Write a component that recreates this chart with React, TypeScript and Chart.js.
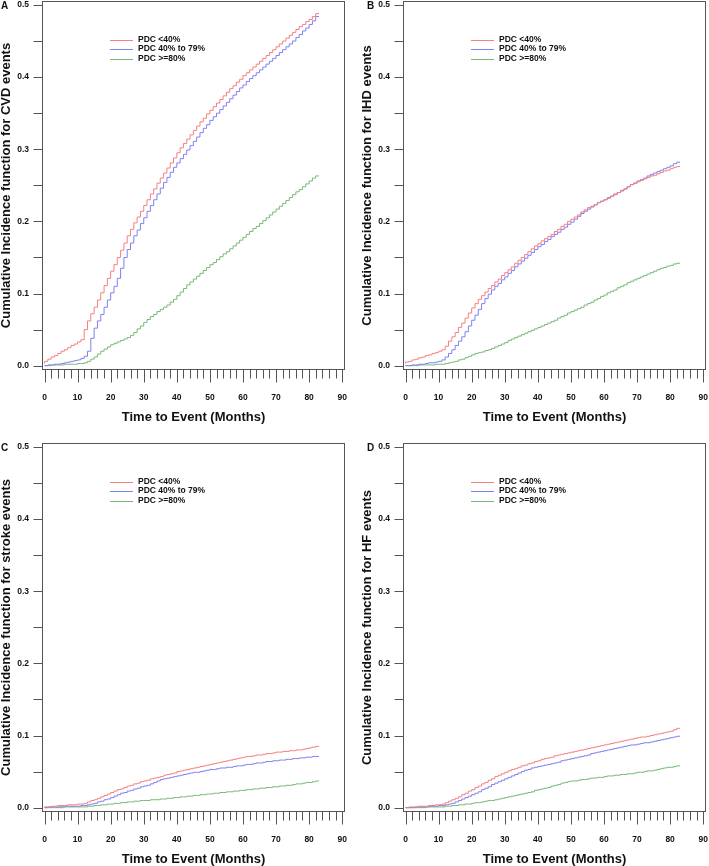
import React, { useEffect, useRef } from 'react';
import { Chart, registerables } from 'chart.js';

Chart.register(...registerables);

// ---------- data ----------
const MONTHS = [
  0, 1, 2, 3, 4, 5, 6, 7, 8, 9, 10, 11,
  12, 13, 14, 15, 16, 17, 18, 19, 20, 21, 22, 23,
  24, 25, 26, 27, 28, 29, 30, 31, 32, 33, 34, 35,
  36, 37, 38, 39, 40, 41, 42, 43, 44, 45, 46, 47,
  48, 49, 50, 51, 52, 53, 54, 55, 56, 57, 58, 59,
  60, 61, 62, 63, 64, 65, 66, 67, 68, 69, 70, 71,
  72, 73, 74, 75, 76, 77, 78, 79, 80, 81, 82, 83,
];

const GROUP_LABELS = ['PDC <40%', 'PDC 40% to 79%', 'PDC >=80%'];
const GROUP_COLORS = ['rgb(244,128,128)', 'rgb(128,128,244)', 'rgb(120,185,120)'];

const X_TITLE = 'Time to Event (Months)';

// Panel A: CVD
const CVD_LOW = [
  0.003, 0.006, 0.009, 0.012, 0.014, 0.017, 0.020, 0.022, 0.025, 0.028, 0.030, 0.033,
  0.036, 0.050, 0.062, 0.072, 0.081, 0.091, 0.101, 0.111, 0.121, 0.131, 0.140, 0.150,
  0.160, 0.170, 0.180, 0.189, 0.198, 0.206, 0.214, 0.222, 0.230, 0.238, 0.245, 0.253,
  0.260, 0.267, 0.274, 0.281, 0.288, 0.295, 0.302, 0.308, 0.314, 0.320, 0.326, 0.332,
  0.338, 0.343, 0.349, 0.354, 0.359, 0.364, 0.369, 0.374, 0.379, 0.384, 0.388, 0.393,
  0.397, 0.402, 0.406, 0.410, 0.414, 0.418, 0.422, 0.426, 0.430, 0.434, 0.438, 0.442,
  0.446, 0.450, 0.454, 0.458, 0.462, 0.466, 0.470, 0.473, 0.477, 0.480, 0.484, 0.488,
];
const CVD_MID = [
  0.000, 0.000, 0.001, 0.001, 0.002, 0.002, 0.003, 0.004, 0.005, 0.006, 0.007, 0.008,
  0.010, 0.013, 0.020, 0.038, 0.052, 0.062, 0.071, 0.081, 0.091, 0.101, 0.110, 0.121,
  0.135, 0.150, 0.161, 0.170, 0.180, 0.188, 0.197, 0.205, 0.214, 0.222, 0.230, 0.238,
  0.246, 0.254, 0.261, 0.268, 0.275, 0.281, 0.287, 0.293, 0.299, 0.305, 0.311, 0.317,
  0.323, 0.329, 0.334, 0.340, 0.345, 0.350, 0.355, 0.360, 0.365, 0.370, 0.375, 0.380,
  0.385, 0.389, 0.394, 0.398, 0.402, 0.406, 0.410, 0.414, 0.418, 0.422, 0.426, 0.430,
  0.434, 0.438, 0.442, 0.446, 0.450, 0.455, 0.459, 0.464, 0.468, 0.473, 0.478, 0.484,
];
const CVD_HIGH = [
  0.000, 0.000, 0.000, 0.001, 0.001, 0.001, 0.001, 0.002, 0.002, 0.002, 0.002, 0.003,
  0.003, 0.004, 0.006, 0.009, 0.012, 0.016, 0.020, 0.023, 0.026, 0.029, 0.031, 0.033,
  0.035, 0.037, 0.039, 0.042, 0.046, 0.051, 0.055, 0.060, 0.064, 0.068, 0.071, 0.075,
  0.078, 0.081, 0.084, 0.088, 0.092, 0.097, 0.102, 0.107, 0.112, 0.116, 0.120, 0.124,
  0.128, 0.132, 0.136, 0.140, 0.143, 0.147, 0.151, 0.155, 0.158, 0.162, 0.166, 0.170,
  0.174, 0.178, 0.182, 0.186, 0.190, 0.193, 0.197, 0.201, 0.205, 0.209, 0.213, 0.217,
  0.221, 0.225, 0.229, 0.233, 0.237, 0.241, 0.244, 0.248, 0.252, 0.256, 0.260, 0.263,
];

// Panel B: IHD
const IHD_LOW = [
  0.003, 0.005, 0.006, 0.008, 0.009, 0.011, 0.012, 0.014, 0.015, 0.017, 0.018, 0.020,
  0.022, 0.027, 0.034, 0.040, 0.046, 0.053, 0.059, 0.066, 0.073, 0.080, 0.086, 0.092,
  0.097, 0.102, 0.107, 0.111, 0.116, 0.120, 0.125, 0.129, 0.133, 0.137, 0.142, 0.146,
  0.150, 0.154, 0.158, 0.162, 0.166, 0.169, 0.173, 0.176, 0.179, 0.182, 0.186, 0.189,
  0.193, 0.196, 0.200, 0.203, 0.206, 0.209, 0.213, 0.216, 0.219, 0.221, 0.223, 0.226,
  0.228, 0.230, 0.232, 0.235, 0.237, 0.240, 0.242, 0.245, 0.248, 0.251, 0.253, 0.255,
  0.257, 0.259, 0.261, 0.263, 0.264, 0.266, 0.268, 0.270, 0.271, 0.273, 0.275, 0.276,
];
const IHD_MID = [
  0.000, 0.000, 0.000, 0.001, 0.001, 0.002, 0.002, 0.003, 0.004, 0.004, 0.005, 0.006,
  0.008, 0.012, 0.017, 0.022, 0.028, 0.034, 0.040, 0.047, 0.055, 0.063, 0.070, 0.078,
  0.086, 0.093, 0.099, 0.105, 0.110, 0.114, 0.119, 0.123, 0.128, 0.132, 0.137, 0.141,
  0.145, 0.149, 0.153, 0.157, 0.161, 0.165, 0.168, 0.172, 0.175, 0.179, 0.182, 0.185,
  0.189, 0.192, 0.196, 0.199, 0.203, 0.207, 0.211, 0.214, 0.217, 0.220, 0.223, 0.226,
  0.228, 0.230, 0.233, 0.235, 0.238, 0.240, 0.243, 0.245, 0.248, 0.251, 0.253, 0.256,
  0.258, 0.260, 0.263, 0.265, 0.267, 0.269, 0.271, 0.273, 0.275, 0.277, 0.280, 0.282,
];
const IHD_HIGH = [
  0.000, 0.000, 0.000, 0.000, 0.000, 0.001, 0.001, 0.001, 0.001, 0.001, 0.002, 0.002,
  0.002, 0.003, 0.004, 0.005, 0.006, 0.008, 0.009, 0.011, 0.013, 0.015, 0.017, 0.018,
  0.019, 0.021, 0.022, 0.024, 0.026, 0.028, 0.030, 0.032, 0.035, 0.037, 0.039, 0.041,
  0.043, 0.045, 0.047, 0.049, 0.051, 0.053, 0.055, 0.057, 0.059, 0.061, 0.063, 0.066,
  0.068, 0.070, 0.073, 0.075, 0.077, 0.079, 0.081, 0.084, 0.086, 0.088, 0.091, 0.093,
  0.096, 0.098, 0.101, 0.103, 0.105, 0.108, 0.110, 0.112, 0.115, 0.117, 0.119, 0.121,
  0.123, 0.125, 0.127, 0.129, 0.131, 0.133, 0.135, 0.136, 0.138, 0.139, 0.141, 0.142,
];

// Panel C: stroke
const STROKE_LOW = [
  0.000, 0.001, 0.001, 0.002, 0.002, 0.003, 0.003, 0.003, 0.004, 0.004, 0.004, 0.005,
  0.005, 0.006, 0.008, 0.010, 0.011, 0.013, 0.015, 0.017, 0.019, 0.021, 0.023, 0.025,
  0.026, 0.028, 0.030, 0.031, 0.033, 0.034, 0.036, 0.037, 0.038, 0.040, 0.041, 0.042,
  0.043, 0.045, 0.046, 0.047, 0.048, 0.050, 0.051, 0.052, 0.053, 0.054, 0.055, 0.056,
  0.057, 0.058, 0.059, 0.060, 0.061, 0.062, 0.063, 0.064, 0.065, 0.066, 0.067, 0.068,
  0.069, 0.070, 0.071, 0.071, 0.072, 0.073, 0.073, 0.074, 0.075, 0.075, 0.076, 0.077,
  0.077, 0.078, 0.078, 0.079, 0.079, 0.080, 0.080, 0.081, 0.082, 0.083, 0.084, 0.085,
];
const STROKE_MID = [
  0.000, 0.000, 0.001, 0.001, 0.001, 0.001, 0.002, 0.002, 0.002, 0.002, 0.002, 0.002,
  0.003, 0.003, 0.004, 0.005, 0.006, 0.008, 0.009, 0.011, 0.012, 0.014, 0.016, 0.018,
  0.020, 0.021, 0.023, 0.024, 0.026, 0.027, 0.029, 0.030, 0.031, 0.033, 0.035, 0.037,
  0.039, 0.040, 0.041, 0.042, 0.043, 0.044, 0.045, 0.046, 0.047, 0.048, 0.049, 0.049,
  0.050, 0.051, 0.052, 0.053, 0.053, 0.054, 0.055, 0.055, 0.056, 0.056, 0.057, 0.058,
  0.058, 0.059, 0.060, 0.060, 0.061, 0.062, 0.062, 0.063, 0.064, 0.064, 0.065, 0.065,
  0.066, 0.066, 0.067, 0.067, 0.068, 0.068, 0.069, 0.069, 0.070, 0.070, 0.071, 0.071,
];
const STROKE_HIGH = [
  0.000, 0.000, 0.000, 0.000, 0.000, 0.000, 0.000, 0.001, 0.001, 0.001, 0.001, 0.001,
  0.001, 0.001, 0.002, 0.002, 0.003, 0.003, 0.004, 0.004, 0.005, 0.005, 0.006, 0.006,
  0.007, 0.007, 0.008, 0.008, 0.009, 0.009, 0.010, 0.010, 0.010, 0.011, 0.011, 0.011,
  0.012, 0.012, 0.013, 0.013, 0.014, 0.014, 0.015, 0.015, 0.016, 0.016, 0.017, 0.017,
  0.018, 0.018, 0.019, 0.019, 0.020, 0.020, 0.021, 0.021, 0.022, 0.022, 0.023, 0.023,
  0.024, 0.024, 0.025, 0.025, 0.026, 0.026, 0.027, 0.027, 0.028, 0.028, 0.029, 0.029,
  0.030, 0.030, 0.031, 0.031, 0.032, 0.033, 0.033, 0.034, 0.035, 0.035, 0.036, 0.037,
];

// Panel D: HF
const HF_LOW = [
  0.000, 0.000, 0.001, 0.001, 0.001, 0.002, 0.002, 0.002, 0.003, 0.003, 0.004, 0.004,
  0.005, 0.007, 0.009, 0.011, 0.013, 0.015, 0.018, 0.020, 0.023, 0.025, 0.028, 0.030,
  0.033, 0.035, 0.038, 0.040, 0.043, 0.045, 0.047, 0.049, 0.051, 0.053, 0.054, 0.056,
  0.058, 0.059, 0.061, 0.062, 0.064, 0.065, 0.067, 0.068, 0.069, 0.070, 0.072, 0.073,
  0.074, 0.075, 0.076, 0.077, 0.078, 0.079, 0.080, 0.081, 0.082, 0.083, 0.084, 0.085,
  0.086, 0.087, 0.088, 0.089, 0.090, 0.091, 0.092, 0.093, 0.094, 0.095, 0.096, 0.097,
  0.098, 0.098, 0.099, 0.100, 0.101, 0.102, 0.103, 0.104, 0.105, 0.106, 0.108, 0.110,
];
const HF_MID = [
  0.000, 0.000, 0.000, 0.000, 0.001, 0.001, 0.001, 0.001, 0.002, 0.002, 0.002, 0.003,
  0.003, 0.004, 0.005, 0.006, 0.008, 0.010, 0.012, 0.014, 0.016, 0.018, 0.020, 0.022,
  0.025, 0.027, 0.029, 0.032, 0.034, 0.036, 0.038, 0.040, 0.042, 0.044, 0.046, 0.048,
  0.050, 0.052, 0.053, 0.055, 0.056, 0.057, 0.058, 0.059, 0.060, 0.061, 0.062, 0.063,
  0.065, 0.066, 0.067, 0.068, 0.069, 0.070, 0.071, 0.072, 0.073, 0.075, 0.076, 0.077,
  0.078, 0.079, 0.080, 0.081, 0.082, 0.083, 0.084, 0.085, 0.086, 0.087, 0.087, 0.088,
  0.089, 0.090, 0.090, 0.091, 0.092, 0.093, 0.094, 0.095, 0.096, 0.097, 0.098, 0.099,
];
const HF_HIGH = [
  0.000, 0.000, 0.000, 0.000, 0.000, 0.000, 0.000, 0.001, 0.001, 0.001, 0.001, 0.001,
  0.001, 0.002, 0.002, 0.003, 0.003, 0.004, 0.004, 0.005, 0.005, 0.006, 0.007, 0.007,
  0.008, 0.009, 0.010, 0.010, 0.011, 0.012, 0.013, 0.014, 0.015, 0.016, 0.017, 0.018,
  0.019, 0.020, 0.021, 0.022, 0.024, 0.025, 0.026, 0.027, 0.028, 0.030, 0.031, 0.032,
  0.034, 0.035, 0.036, 0.037, 0.037, 0.038, 0.039, 0.039, 0.040, 0.041, 0.041, 0.042,
  0.042, 0.043, 0.044, 0.044, 0.045, 0.045, 0.046, 0.046, 0.047, 0.047, 0.048, 0.049,
  0.049, 0.050, 0.051, 0.051, 0.052, 0.053, 0.054, 0.055, 0.056, 0.056, 0.057, 0.058,
];

// ---------- styling ----------
const FONT_FAMILY = '"Liberation Sans", Arial, Helvetica, sans-serif';
const AXIS_COLOR = '#555555';
const TEXT_COLOR = '#111111';
const CANVAS_H = 441;
const BOX_LEFT = 42;
const BOX_RIGHT = 345;
const BOX_TOP = 1;
const BOX_BOTTOM = 370;

const decoPlugin = {
  id: 'deco',
  afterDraw(chart: any, _args: any, opts: any) {
    const { ctx, chartArea: ca, scales } = chart;
    const xs = scales.x;
    const ys = scales.y;
    ctx.save();
    ctx.strokeStyle = AXIS_COLOR;
    ctx.lineWidth = 1;
    // box
    const l = Math.round(ca.left) + 0.5;
    const t = Math.round(ca.top) + 0.5;
    const r = Math.round(ca.right) - 0.5;
    const b = Math.round(ca.bottom) - 0.5;
    ctx.strokeRect(l, t, r - l, b - t);
    // ticks
    ctx.beginPath();
    ys.ticks.forEach((tk: any) => {
      const p = Math.round(ys.getPixelForValue(tk.value)) + 0.5;
      ctx.moveTo(l - 9, p);
      ctx.lineTo(l, p);
    });
    xs.ticks.forEach((tk: any) => {
      const p = Math.round(xs.getPixelForValue(tk.value)) + 0.5;
      const len = tk.label ? 13 : 9;
      ctx.moveTo(p, b);
      ctx.lineTo(p, b + len);
    });
    ctx.stroke();

    // legend
    ctx.font = `bold 8.5px ${FONT_FAMILY}`;
    ctx.textBaseline = 'middle';
    ctx.textAlign = 'left';
    chart.data.datasets.forEach((ds: any, i: number) => {
      const yy = ca.top + 38.5 + i * 9.6;
      ctx.strokeStyle = ds.borderColor;
      ctx.beginPath();
      ctx.moveTo(ca.left + 68, Math.round(yy) + 0.5);
      ctx.lineTo(ca.left + 91, Math.round(yy) + 0.5);
      ctx.stroke();
      ctx.fillStyle = TEXT_COLOR;
      ctx.fillText(ds.label, ca.left + 96, yy);
    });

    // panel letter
    ctx.font = `bold 10px ${FONT_FAMILY}`;
    ctx.textAlign = 'center';
    ctx.fillStyle = TEXT_COLOR;
    ctx.fillText(opts.letter, opts.letterX, 6);
    ctx.restore();
  },
};

type PanelProps = {
  letter: string;
  letterX: number;
  yTitle: string;
  series: number[][];
  left: number;
  top: number;
  width: number;
};

function Panel({ letter, letterX, yTitle, series, left, top, width }: PanelProps) {
  const ref = useRef<HTMLCanvasElement | null>(null);

  useEffect(() => {
    if (!ref.current) return;
    const datasets = series.map((vals, i) => ({
      label: GROUP_LABELS[i],
      data: vals.map((v, j) => ({ x: MONTHS[j], y: v })),
      borderColor: GROUP_COLORS[i],
      backgroundColor: GROUP_COLORS[i],
      borderWidth: 1,
      pointRadius: 0,
      stepped: 'after' as const,
      fill: false,
    }));
    const hiddenGrid = (len: number) => ({
      display: true,
      drawOnChartArea: false,
      drawTicks: true,
      tickLength: len,
      tickColor: 'rgba(0,0,0,0)',
      color: 'rgba(0,0,0,0)',
    });
    const chart = new Chart(ref.current, {
      type: 'line',
      data: { datasets },
      plugins: [decoPlugin],
      options: {
        animation: false,
        responsive: false,
        devicePixelRatio: 1,
        layout: { padding: { left: 0, top: BOX_TOP, right: width - BOX_RIGHT, bottom: 0 } },
        plugins: {
          legend: { display: false },
          tooltip: { enabled: false },
          deco: { letter, letterX },
        } as any,
        scales: {
          x: {
            type: 'linear',
            min: -0.76,
            max: 90.85,
            grid: hiddenGrid(23),
            border: { display: false },
            ticks: {
              stepSize: 2,
              includeBounds: false,
              autoSkip: false,
              maxRotation: 0,
              padding: 0,
              color: TEXT_COLOR,
              font: { family: FONT_FAMILY, size: 8.5, weight: 'bold' },
              callback: (v: any) => (Number(v) % 10 === 0 ? String(v) : ''),
            },
            title: {
              display: true,
              text: X_TITLE,
              color: TEXT_COLOR,
              font: { family: FONT_FAMILY, size: 13, weight: 'bold', lineHeight: 1 },
              padding: { top: 0, bottom: 17.5 },
            },
            afterFit: (s: any) => {
              s.height = CANVAS_H - BOX_BOTTOM;
              s.paddingLeft = 0;
              s.paddingRight = 0;
            },
          },
          y: {
            type: 'linear',
            min: -0.006,
            max: 0.5055,
            grid: hiddenGrid(13),
            border: { display: false },
            ticks: {
              stepSize: 0.05,
              includeBounds: false,
              autoSkip: false,
              padding: 0,
              color: TEXT_COLOR,
              font: { family: FONT_FAMILY, size: 8.5, weight: 'bold' },
              callback: (v: any) => {
                const n = Number(v);
                return Math.abs(n * 10 - Math.round(n * 10)) < 1e-6 ? n.toFixed(1) : '';
              },
            },
            title: {
              display: true,
              text: yTitle,
              color: TEXT_COLOR,
              font: { family: FONT_FAMILY, size: 13, weight: 'bold', lineHeight: 1 },
              padding: { top: 0, bottom: 0 },
            },
            afterFit: (s: any) => {
              s.width = BOX_LEFT;
              s.paddingTop = 0;
              s.paddingBottom = 0;
            },
          },
        },
      } as any,
    });
    return () => chart.destroy();
  }, []);

  return (
    <canvas
      ref={ref}
      width={width}
      height={CANVAS_H}
      style={{ position: 'absolute', left, top, width, height: CANVAS_H }}
    />
  );
}

export default function App() {
  return (
    <div
      style={{
        position: 'absolute',
        left: 0,
        top: 0,
        width: 709,
        height: 866,
        overflow: 'hidden',
        background: '#ffffff',
      }}
    >
      <Panel
        letter="A"
        letterX={4.5}
        yTitle="Cumulative Incidence function for CVD events"
        series={[CVD_LOW, CVD_MID, CVD_HIGH]}
        left={0}
        top={0}
        width={361}
      />
      <Panel
        letter="B"
        letterX={9.5}
        yTitle="Cumulative Incidence function for IHD events"
        series={[IHD_LOW, IHD_MID, IHD_HIGH]}
        left={361}
        top={0}
        width={348}
      />
      <Panel
        letter="C"
        letterX={4.5}
        yTitle="Cumulative Incidence function for stroke events"
        series={[STROKE_LOW, STROKE_MID, STROKE_HIGH]}
        left={0}
        top={442}
        width={361}
      />
      <Panel
        letter="D"
        letterX={9.5}
        yTitle="Cumulative Incidence function for HF events"
        series={[HF_LOW, HF_MID, HF_HIGH]}
        left={361}
        top={442}
        width={348}
      />
    </div>
  );
}
